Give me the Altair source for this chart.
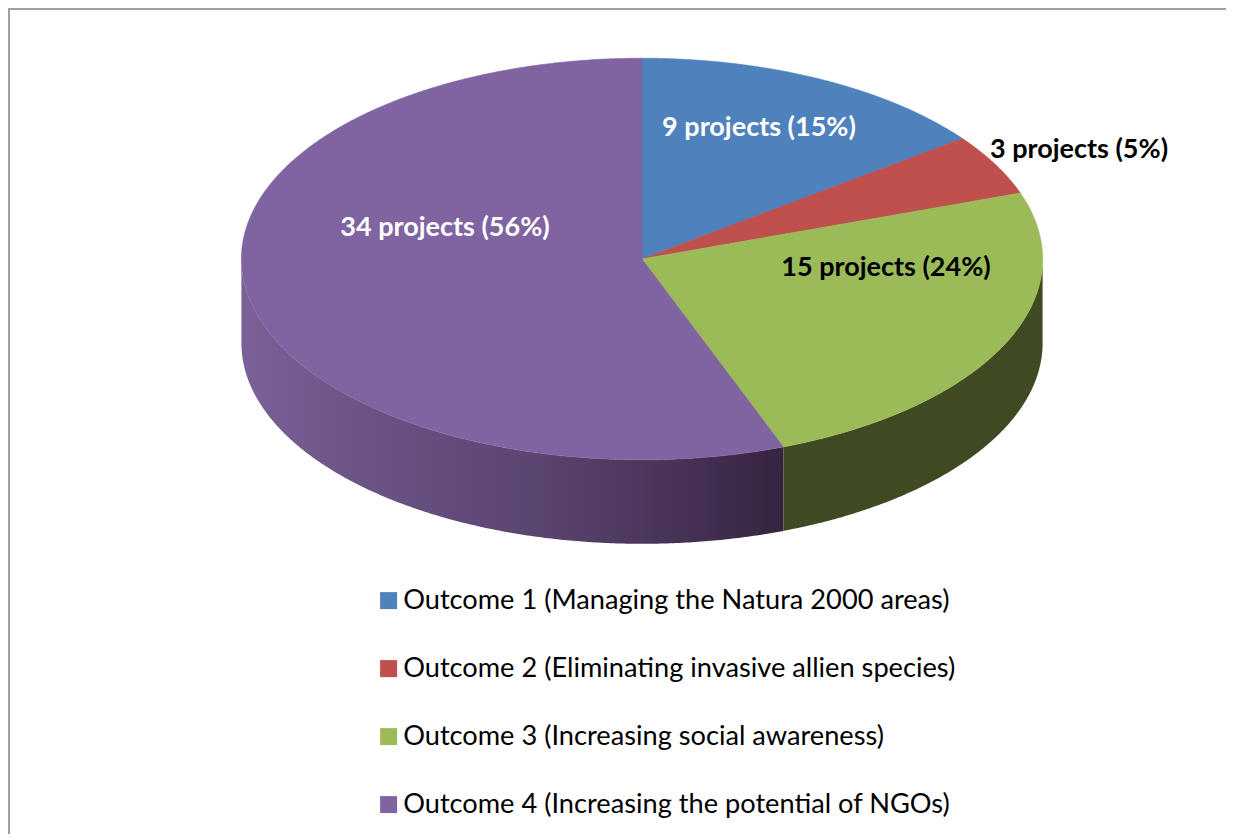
import math
import altair as alt
import pandas as pd

outcomes = [
    "Outcome 1 (Managing the Natura 2000 areas)",
    "Outcome 2 (Eliminating invasive allien species)",
    "Outcome 3 (Increasing social awareness)",
    "Outcome 4 (Increasing the potential of NGOs)",
]
projects = [9, 3, 15, 34]
labels = ["9 projects (15%)", "3 projects (5%)", "15 projects (24%)", "34 projects (56%)"]
colors = ["#4f81bd", "#c0504d", "#9bbb59", "#8064a2"]
label_colors = ["white", "black", "black", "white"]

W, H = 1218, 826
CX, CY, RX, RY = 634.0, 251.0, 400.6, 200.8
DEPTH = 84.0 / RY
x_dom = [(0 - CX) / RX, (W - CX) / RX]
y_dom = [(CY - H) / RY, CY / RY]
label_px = [(751, 120), (1071, 142), (878, 260), (437, 220)]

total = sum(projects)
bounds = [0.0]
for v in projects:
    bounds.append(bounds[-1] + v / total * 2 * math.pi)


def arc_angles(a0, a1, n=300):
    angs = [a0 + (a1 - a0) * i / n for i in range(n + 1)]
    angs += [k * math.pi / 2 for k in range(5) if a0 < k * math.pi / 2 < a1]
    return sorted(angs)


def sector_rows(name, a0, a1):
    pts = [(0.0, 0.0)] + [(math.sin(a), math.cos(a)) for a in arc_angles(a0, a1)]
    edges = list(zip(pts, pts[1:] + pts[:1]))
    xs = sorted({p[0] for p in pts} | {v for v in (-1e-7, 1e-7) if min(p[0] for p in pts) < v < max(p[0] for p in pts)})
    rows = []
    for x in xs:
        ys = []
        for (x1, y1), (x2, y2) in edges:
            if x1 == x2:
                if abs(x - x1) < 1e-12:
                    ys += [y1, y2]
            elif min(x1, x2) <= x <= max(x1, x2):
                ys.append(y1 + (y2 - y1) * (x - x1) / (x2 - x1))
        if ys:
            rows.append({"outcome": name, "x": x, "y": min(ys), "y2": max(ys)})
    return rows


top_rows = []
for i, name in enumerate(outcomes):
    top_rows += sector_rows(name, bounds[i], bounds[i + 1])
top_df = pd.DataFrame(top_rows)


def wall_rows(part, x0, x1, n=400):
    rows = []
    for i in range(n + 1):
        t = math.pi * (1 - i / n)
        x = math.cos(t)
        if x0 <= x <= x1:
            rows.append((x, -math.sqrt(max(0.0, 1 - x * x))))
    rows = [(x0, -math.sqrt(max(0.0, 1 - x0 * x0)))] + rows + [(x1, -math.sqrt(max(0.0, 1 - x1 * x1)))]
    return pd.DataFrame([{"x": x, "y": y, "y2": y - DEPTH} for x, y in rows])


split = math.sin(bounds[3])
xs = alt.X("x:Q", scale=alt.Scale(domain=x_dom, nice=False, zero=False), axis=None)
ys = alt.Y("y:Q", scale=alt.Scale(domain=y_dom, nice=False, zero=False), axis=None, stack=None)

purple_grad = alt.Gradient(
    gradient="linear", x1=0, x2=1, y1=0, y2=0,
    stops=[
        alt.GradientStop(color="#7b6196", offset=0),
        alt.GradientStop(color="#6a5285", offset=0.25),
        alt.GradientStop(color="#5a4470", offset=0.55),
        alt.GradientStop(color="#483357", offset=0.8),
        alt.GradientStop(color="#352440", offset=1),
    ],
)
wall_purple = alt.Chart(wall_rows("p", -1.0, split)).mark_area(color=purple_grad, interpolate="linear").encode(
    x=xs, y=ys, y2="y2:Q")
wall_green = alt.Chart(wall_rows("g", split, 1.0)).mark_area(color="#3f4a22", interpolate="linear").encode(
    x=xs, y=ys, y2="y2:Q")

top = alt.Chart(top_df).mark_area(interpolate="linear", strokeWidth=0.6).encode(
    x=xs, y=ys, y2="y2:Q",
    stroke=alt.Stroke("outcome:N", scale=alt.Scale(domain=outcomes, range=colors), legend=None),
    color=alt.Color(
        "outcome:N",
        scale=alt.Scale(domain=outcomes, range=colors),
        legend=alt.Legend(
            title=None, orient="none", legendX=367, legendY=579, columns=1,
            symbolType="square", symbolSize=289, symbolStrokeWidth=0,
            labelFont="Lato", labelFontSize=27.2, labelColor="black", labelLimit=800,
            labelOffset=1, rowPadding=40, symbolOpacity=1,
        ),
    ),
)

label_df = pd.DataFrame({
    "label": labels,
    "colour": label_colors,
    "x": [(px - CX) / RX for px, _ in label_px],
    "y": [(CY - py) / RY for _, py in label_px],
})
text = alt.Chart(label_df).mark_text(font="Lato", fontSize=27, fontWeight="bold").encode(
    x=xs, y=alt.Y("y:Q", scale=alt.Scale(domain=y_dom, nice=False, zero=False), axis=None),
    text="label:N", color=alt.Color("colour:N", scale=None, legend=None),
)

frame_df = pd.DataFrame({"x": [x_dom[0]], "x2": [x_dom[1]], "y": [y_dom[1]], "y2": [y_dom[0]]})
frame_top = alt.Chart(frame_df).mark_rule(color="#a0a0a0", strokeWidth=2).encode(x=xs, x2="x2:Q", y=alt.value(1))
frame_left = alt.Chart(frame_df).mark_rule(color="#a0a0a0", strokeWidth=2).encode(x=alt.value(1), y=alt.Y("y:Q", scale=alt.Scale(domain=y_dom, nice=False, zero=False), axis=None), y2="y2:Q")

chart = (
    alt.layer(frame_top, frame_left, wall_purple, wall_green, top, text)
    .resolve_scale(color="independent")
    .properties(width=W, height=H, padding=0, background="white",
                autosize=alt.AutoSizeParams(type="none"))
    .configure_view(stroke=None)
)
chart.save("out.html", embed_options={"renderer": "svg", "actions": False})
